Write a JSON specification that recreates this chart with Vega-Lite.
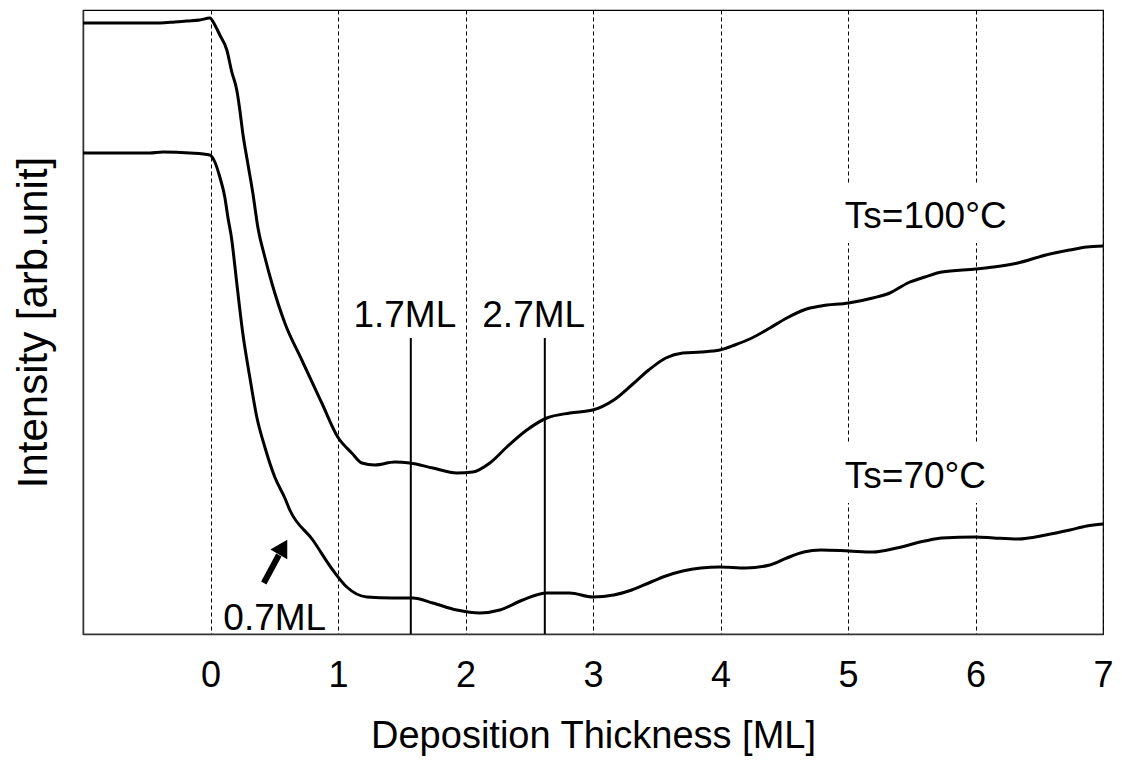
{
  "$schema": "https://vega.github.io/schema/vega-lite/v6.json",
  "width": 1020,
  "height": 624,
  "autosize": {"type": "none"},
  "padding": {"left": 83, "top": 10, "right": 19, "bottom": 128},
  "background": "white",
  "config": {
    "view": {"stroke": "#000000", "strokeWidth": 1.2},
    "font": "Liberation Sans",
    "text": {"font": "Liberation Sans", "color": "#000000"}
  },
  "encoding": {
    "x": {
      "field": "x", "type": "quantitative",
      "scale": {"domain": [-1, 7], "nice": false, "zero": false},
      "axis": {
        "values": [0, 1, 2, 3, 4, 5, 6, 7],
        "grid": true, "gridColor": "#000000", "gridDash": [4, 3], "gridWidth": 1, "gridOpacity": 1,
        "domain": true, "domainColor": "#333333", "domainWidth": 1.5,
        "ticks": false,
        "labelFont": "Liberation Sans", "labelFontSize": 36, "labelColor": "#000000",
        "labelPadding": 24, "labelFlush": false, "labelOverlap": false,
        "title": "Deposition Thickness [ML]",
        "titleFont": "Liberation Sans", "titleFontSize": 38, "titleFontWeight": "normal", "titleColor": "#000000",
        "titleY": 113, "titleBaseline": "alphabetic"
      }
    },
    "y": {
      "field": "y", "type": "quantitative",
      "scale": {"domain": [0, 624], "nice": false, "zero": false},
      "axis": {
        "grid": false, "ticks": false, "labels": false,
        "domain": true, "domainColor": "#333333", "domainWidth": 1.5,
        "title": "Intensity [arb.unit]",
        "titleFont": "Liberation Sans", "titleFontSize": 42, "titleFontWeight": "normal", "titleColor": "#000000",
        "titleAngle": 270, "titleBaseline": "middle", "titleAlign": "center",
        "titleX": -50, "titleY": 312
      }
    }
  },
  "layer": [
    {
      "data": {"values": [
        {"x": 4.94, "x2": 6.3, "y": 391, "y2": 451},
        {"x": 4.94, "x2": 6.15, "y": 131, "y2": 191}
      ]},
      "mark": {"type": "rect", "fill": "white", "stroke": null},
      "encoding": {"x2": {"field": "x2"}, "y2": {"field": "y2"}}
    },
    {
      "data": {"values": [
        {"series": "100", "x": -1.0, "y": 611}, {"series": "100", "x": -0.711, "y": 611}, {"series": "100", "x": -0.476, "y": 611},
        {"series": "100", "x": -0.398, "y": 611}, {"series": "100", "x": -0.28, "y": 612}, {"series": "100", "x": -0.186, "y": 613},
        {"series": "100", "x": -0.084, "y": 614}, {"series": "100", "x": -0.005, "y": 616}, {"series": "100", "x": 0.034, "y": 609},
        {"series": "100", "x": 0.073, "y": 599}, {"series": "100", "x": 0.128, "y": 584}, {"series": "100", "x": 0.167, "y": 562},
        {"series": "100", "x": 0.206, "y": 544}, {"series": "100", "x": 0.23, "y": 524}, {"series": "100", "x": 0.253, "y": 501},
        {"series": "100", "x": 0.292, "y": 471}, {"series": "100", "x": 0.332, "y": 441}, {"series": "100", "x": 0.371, "y": 407},
        {"series": "100", "x": 0.426, "y": 377}, {"series": "100", "x": 0.481, "y": 351}, {"series": "100", "x": 0.583, "y": 311},
        {"series": "100", "x": 0.716, "y": 274}, {"series": "100", "x": 0.873, "y": 231}, {"series": "100", "x": 0.998, "y": 197},
        {"series": "100", "x": 1.108, "y": 181}, {"series": "100", "x": 1.187, "y": 171}, {"series": "100", "x": 1.289, "y": 169},
        {"series": "100", "x": 1.445, "y": 172}, {"series": "100", "x": 1.563, "y": 171}, {"series": "100", "x": 1.744, "y": 166},
        {"series": "100", "x": 1.932, "y": 161}, {"series": "100", "x": 2.057, "y": 162}, {"series": "100", "x": 2.191, "y": 171},
        {"series": "100", "x": 2.324, "y": 187}, {"series": "100", "x": 2.481, "y": 204}, {"series": "100", "x": 2.638, "y": 216},
        {"series": "100", "x": 2.818, "y": 221}, {"series": "100", "x": 2.998, "y": 224}, {"series": "100", "x": 3.163, "y": 234},
        {"series": "100", "x": 3.304, "y": 249}, {"series": "100", "x": 3.437, "y": 264}, {"series": "100", "x": 3.571, "y": 276},
        {"series": "100", "x": 3.704, "y": 281}, {"series": "100", "x": 3.846, "y": 282}, {"series": "100", "x": 3.995, "y": 284},
        {"series": "100", "x": 4.112, "y": 289}, {"series": "100", "x": 4.246, "y": 296}, {"series": "100", "x": 4.387, "y": 306},
        {"series": "100", "x": 4.52, "y": 316}, {"series": "100", "x": 4.653, "y": 324}, {"series": "100", "x": 4.787, "y": 328},
        {"series": "100", "x": 5.006, "y": 331}, {"series": "100", "x": 5.194, "y": 336}, {"series": "100", "x": 5.328, "y": 341},
        {"series": "100", "x": 5.469, "y": 351}, {"series": "100", "x": 5.602, "y": 357}, {"series": "100", "x": 5.736, "y": 362},
        {"series": "100", "x": 6.002, "y": 365}, {"series": "100", "x": 6.143, "y": 367}, {"series": "100", "x": 6.332, "y": 371},
        {"series": "100", "x": 6.551, "y": 379}, {"series": "100", "x": 6.74, "y": 384}, {"series": "100", "x": 6.873, "y": 387},
        {"series": "100", "x": 7.0, "y": 388},
        {"series": "70", "x": -1.0, "y": 481}, {"series": "70", "x": -0.476, "y": 481}, {"series": "70", "x": -0.374, "y": 482},
        {"series": "70", "x": -0.162, "y": 481}, {"series": "70", "x": -0.005, "y": 479}, {"series": "70", "x": 0.034, "y": 472},
        {"series": "70", "x": 0.073, "y": 457}, {"series": "70", "x": 0.112, "y": 437}, {"series": "70", "x": 0.136, "y": 417},
        {"series": "70", "x": 0.167, "y": 394}, {"series": "70", "x": 0.183, "y": 377}, {"series": "70", "x": 0.206, "y": 351},
        {"series": "70", "x": 0.253, "y": 301}, {"series": "70", "x": 0.308, "y": 257}, {"series": "70", "x": 0.363, "y": 217},
        {"series": "70", "x": 0.426, "y": 187}, {"series": "70", "x": 0.504, "y": 157}, {"series": "70", "x": 0.583, "y": 136},
        {"series": "70", "x": 0.622, "y": 124}, {"series": "70", "x": 0.802, "y": 94},
        {"series": "70", "x": 0.959, "y": 64}, {"series": "70", "x": 1.069, "y": 47}, {"series": "70", "x": 1.226, "y": 37},
        {"series": "70", "x": 1.43, "y": 36}, {"series": "70", "x": 1.587, "y": 36}, {"series": "70", "x": 1.744, "y": 31},
        {"series": "70", "x": 1.932, "y": 24}, {"series": "70", "x": 2.112, "y": 21}, {"series": "70", "x": 2.269, "y": 24},
        {"series": "70", "x": 2.449, "y": 34}, {"series": "70", "x": 2.638, "y": 41}, {"series": "70", "x": 2.818, "y": 41},
        {"series": "70", "x": 2.998, "y": 37}, {"series": "70", "x": 3.163, "y": 39}, {"series": "70", "x": 3.304, "y": 44},
        {"series": "70", "x": 3.437, "y": 51}, {"series": "70", "x": 3.571, "y": 58}, {"series": "70", "x": 3.704, "y": 63},
        {"series": "70", "x": 3.846, "y": 66}, {"series": "70", "x": 3.995, "y": 67}, {"series": "70", "x": 4.199, "y": 66},
        {"series": "70", "x": 4.387, "y": 69}, {"series": "70", "x": 4.52, "y": 76}, {"series": "70", "x": 4.653, "y": 82},
        {"series": "70", "x": 4.787, "y": 84}, {"series": "70", "x": 5.006, "y": 83}, {"series": "70", "x": 5.194, "y": 82},
        {"series": "70", "x": 5.382, "y": 86}, {"series": "70", "x": 5.602, "y": 93}, {"series": "70", "x": 5.736, "y": 96},
        {"series": "70", "x": 6.002, "y": 97}, {"series": "70", "x": 6.143, "y": 96}, {"series": "70", "x": 6.332, "y": 95},
        {"series": "70", "x": 6.551, "y": 99}, {"series": "70", "x": 6.74, "y": 104}, {"series": "70", "x": 6.873, "y": 108},
        {"series": "70", "x": 7.0, "y": 110}
      ]},
      "mark": {"type": "line", "color": "#000000", "strokeWidth": 3, "interpolate": "monotone"},
      "encoding": {"detail": {"field": "series", "type": "nominal"}}
    },
    {
      "data": {"values": [
        {"x": 1.571, "y": 0, "y2": 296},
        {"x": 2.622, "y": 0, "y2": 296}
      ]},
      "mark": {"type": "rule", "color": "#000000", "strokeWidth": 2},
      "encoding": {"y2": {"field": "y2"}}
    },
    {
      "data": {"values": [
        {"x": 0.418, "y": 51, "x2": 0.536, "y2": 79}
      ]},
      "mark": {"type": "rule", "color": "#000000", "strokeWidth": 6},
      "encoding": {"x2": {"field": "x2"}, "y2": {"field": "y2"}}
    },
    {
      "data": {"values": [
        {"x": 0.569, "y": 87}
      ]},
      "mark": {"type": "point", "shape": "triangle-up", "size": 380, "angle": 30, "filled": true, "color": "#000000", "opacity": 1}
    },
    {
      "data": {"values": [
        {"x": 1.524, "y": 307, "label": "1.7ML"},
        {"x": 2.535, "y": 307, "label": "2.7ML"},
        {"x": 0.504, "y": 4, "label": "0.7ML"}
      ]},
      "mark": {"type": "text", "align": "center", "baseline": "alphabetic", "fontSize": 37, "font": "Liberation Sans", "color": "#000000"},
      "encoding": {"text": {"field": "label", "type": "nominal"}}
    },
    {
      "data": {"values": [
        {"x": 4.975, "y": 406, "label": "Ts=100°C"},
        {"x": 4.975, "y": 146, "label": "Ts=70°C"}
      ]},
      "mark": {"type": "text", "align": "left", "baseline": "alphabetic", "fontSize": 37, "font": "Liberation Sans", "color": "#000000"},
      "encoding": {"text": {"field": "label", "type": "nominal"}}
    }
  ]
}
